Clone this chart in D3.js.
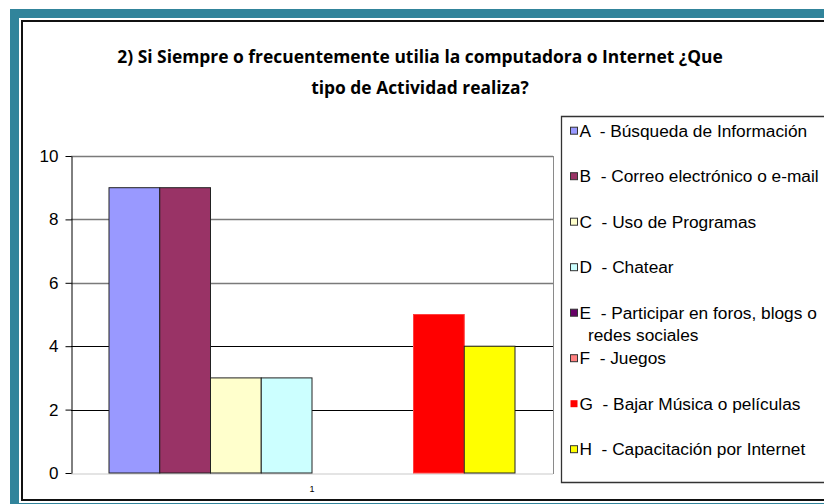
<!DOCTYPE html>
<html>
<head>
<meta charset="utf-8">
<script src="https://d3js.org/d3.v7.min.js"></script>
<style>
  html, body { margin: 0; padding: 0; background: #fff; overflow: hidden; }
  svg { display: block; }
  text { font-family: "Liberation Sans", Arial, sans-serif; }
</style>
</head>
<body>
<div id="chart"></div>
<script>
// data
var categories = ["1"];
var seriesNames = [
  "A  - Búsqueda de Información",
  "B  - Correo electrónico o e-mail",
  "C  - Uso de Programas",
  "D  - Chatear",
  "E  - Participar en foros, blogs o|redes sociales",
  "F  - Juegos",
  "G  - Bajar Música o películas",
  "H  - Capacitación por Internet"
];
var seriesValues = [9, 9, 3, 3, 0, 0, 5, 4];
var seriesColors = ["#9999ff", "#993366", "#ffffcc", "#ccffff", "#660066", "#ff8080", "#ff0000", "#ffff00"];
var yTicks = [0, 2, 4, 6, 8, 10];
var titleLines = ["2) Si Siempre o frecuentemente utilia la computadora o Internet ¿Que", "tipo de Actividad realiza?"];

var W = 824, H = 504;
var svg = d3.select("#chart").append("svg")
  .attr("width", W).attr("height", H)
  .attr("viewBox", "0 0 " + W + " " + H);

// frame (runs off the right edge, as in the source picture)
var frame = svg.append("g");
frame.append("path").attr("fill", "#31849b")
  .attr("d", "M10,9H" + (W + 20) + "V" + (H + 10) + "H10Z");
frame.append("path").attr("fill", "#fff")
  .attr("d", "M19,18H" + (W + 20) + "V" + (H - 1) + "H19Z");
frame.append("path").attr("fill", "none").attr("stroke", "#111").attr("stroke-width", 2)
  .attr("d", "M" + (W + 20) + ",21H22V500H" + (W + 20));

// title
var title = svg.append("g");
title.selectAll("text").data(titleLines).enter().append("text")
  .attr("x", 420).attr("y", function(d, i) { return 63 + i * 31; })
  .attr("text-anchor", "middle")
  .style("font-family", "'Open Sans', sans-serif")
  .style("font-weight", "bold")
  .style("font-size", "18px")
  .text(function(d) { return d; });
// fit first line to the reference width
var w0 = title.select("text").node().getComputedTextLength();
var fs = 18 * 606 / w0;
title.selectAll("text").style("font-size", fs + "px");

// plot area
var plot = { left: 71, right: 553, top: 156, bottom: 473 };
var y = d3.scaleLinear().domain([0, 10]).range([plot.bottom, plot.top]);
var x0 = d3.scaleBand().domain(categories).range([plot.left, plot.right]).paddingOuter(0.0936).paddingInner(0);
var x1 = d3.scaleBand().domain(d3.range(seriesValues.length)).range([0, x0.bandwidth()]).padding(0);

// gridlines
svg.append("g").selectAll("line").data(yTicks.filter(function(t) { return t > 0; })).enter().append("line")
  .attr("x1", plot.left).attr("x2", plot.right)
  .attr("y1", function(d) { return Math.round(y(d)) + 0.5; })
  .attr("y2", function(d) { return Math.round(y(d)) + 0.5; })
  .attr("stroke", function(d) { return d >= 6 ? "#7a7a7a" : "#000"; })
  .attr("stroke-width", function(d) { return d >= 6 ? 1.5 : 1; });

// plot right and bottom border
svg.append("line").attr("x1", plot.right + 0.5).attr("x2", plot.right + 0.5)
  .attr("y1", plot.top).attr("y2", plot.bottom + 1).attr("stroke", "#8a8a8a");
svg.append("line").attr("x1", plot.left).attr("x2", plot.right)
  .attr("y1", plot.bottom + 1).attr("y2", plot.bottom + 1).attr("stroke", "#e4e4e4").attr("stroke-width", 2);

// bars
var groups = svg.append("g").selectAll("g").data(categories).enter().append("g")
  .attr("transform", function(d) { return "translate(" + x0(d) + ",0)"; });
groups.selectAll("rect").data(seriesValues.map(function(v, i) { return { v: v, i: i }; }).filter(function(d) { return d.v > 0; }))
  .enter().append("rect")
  .attr("x", function(d) { return x1(d.i); })
  .attr("y", function(d) { return y(d.v); })
  .attr("width", x1.bandwidth())
  .attr("height", function(d) { return y(0) - y(d.v); })
  .attr("fill", function(d) { return seriesColors[d.i]; })
  .attr("stroke", function(d) { return d.i === 6 ? "#ff4040" : "#222"; })
  .attr("stroke-width", 1);

// y axis
var yAxis = svg.append("g").attr("transform", "translate(" + (plot.left + 0.5) + ",0)")
  .call(d3.axisLeft(y).tickValues(yTicks).tickSize(6).tickPadding(7).tickSizeOuter(0));
yAxis.select(".domain").attr("stroke", "#000");
yAxis.selectAll(".tick line").attr("stroke", "#000");
yAxis.selectAll(".tick text").style("font-size", "17px").style("font-family", "'Liberation Sans', Arial, sans-serif").attr("fill", "#000");

// x category label
svg.append("g").selectAll("text").data(categories).enter().append("text")
  .attr("x", function(d) { return x0(d) + x0.bandwidth() / 2; })
  .attr("y", 492)
  .attr("text-anchor", "middle")
  .style("font-size", "9px")
  .text(function(d) { return d; });

// legend (open on the right, the box runs past the edge)
var legend = { left: 561.5, top: 116.5, bottom: 482.5 };
svg.append("path")
  .attr("fill", "#fff").attr("stroke", "#333").attr("stroke-width", 1.3)
  .attr("d", "M" + (W + 20) + "," + legend.top + "H" + legend.left + "V" + legend.bottom + "H" + (W + 20));
var ly = d3.scaleLinear().domain([0, seriesNames.length - 1]).range([130.7, 449.2]);
var items = svg.append("g").selectAll("g").data(seriesNames).enter().append("g")
  .attr("transform", function(d, i) { return "translate(0," + ly(i) + ")"; });
items.append("rect")
  .attr("x", 570.5).attr("y", -3.5).attr("width", 7).attr("height", 7)
  .attr("fill", function(d, i) { return seriesColors[i]; })
  .attr("stroke", function(d, i) { return i === 6 ? "none" : "#333"; });
items.each(function(d) {
  var lines = d.split("|");
  d3.select(this).selectAll("text").data(lines).enter().append("text")
    .attr("x", function(l, j) { return j === 0 ? 579.5 : 588; })
    .attr("y", function(l, j) { return 6 + j * 22; })
    .attr("xml:space", "preserve")
    .style("white-space", "pre")
    .style("font-size", "17.3px")
    .attr("fill", "#000")
    .text(function(l) { return l; });
});
</script>
</body>
</html>
